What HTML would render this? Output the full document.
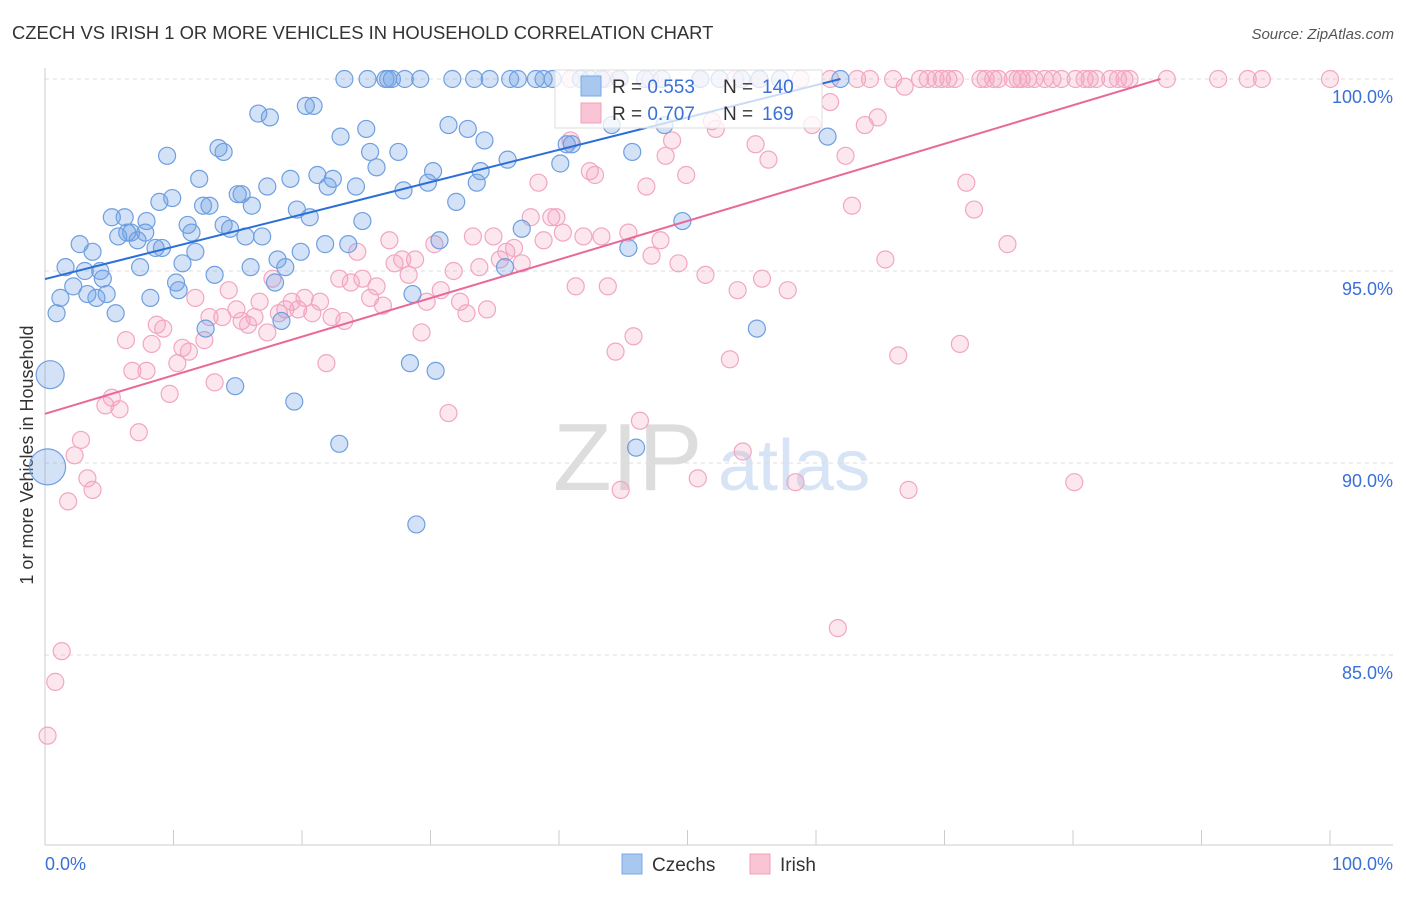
<!DOCTYPE html>
<html><head><meta charset="utf-8"><style>
body{margin:0;background:#fff;font-family:"Liberation Sans",sans-serif}
svg text{font-family:"Liberation Sans",sans-serif}
</style></head><body>
<svg id="c" width="1406" height="892" xmlns="http://www.w3.org/2000/svg">
<text x="12" y="39" font-size="18.4" fill="#333">CZECH VS IRISH 1 OR MORE VEHICLES IN HOUSEHOLD CORRELATION CHART</text>
<text x="1394" y="39" font-size="15" fill="#555" text-anchor="end" font-style="italic">Source: ZipAtlas.com</text>
<text transform="translate(33,455) rotate(-90)" font-size="18" fill="#333" text-anchor="middle">1 or more Vehicles in Household</text>
<g><text x="553" y="490" font-size="96" font-family="Liberation Serif" fill="#ddd">ZIP</text><text x="718" y="490" font-size="72" fill="#d6e4f5">atlas</text></g>
<g id="grid"></g><g id="pts"></g><g id="lines"></g>
<g>
<rect x="555" y="70" width="267" height="58" fill="#fff" fill-opacity="0.75" stroke="#ddd"/>
<rect x="581" y="76" width="20" height="20" fill="#a9c8f0" stroke="#7aa7e6"/>
<text x="612" y="93" font-size="19" fill="#333">R = <tspan fill="#3a6fd8">0.553</tspan></text>
<text x="723" y="93" font-size="19" fill="#333">N = <tspan fill="#3a6fd8" x="762">140</tspan></text>
<rect x="581" y="103" width="20" height="20" fill="#f9c4d4" stroke="#f0a0bb"/>
<text x="612" y="120" font-size="19" fill="#333">R = <tspan fill="#3a6fd8">0.707</tspan></text>
<text x="723" y="120" font-size="19" fill="#333">N = <tspan fill="#3a6fd8" x="762">169</tspan></text>
</g>
<g>
<rect x="622" y="854" width="20" height="20" fill="#a9c8f0" stroke="#7aa7e6"/><text x="652" y="871" font-size="19" fill="#333">Czechs</text>
<rect x="750" y="854" width="20" height="20" fill="#f9c4d4" stroke="#f0a0bb"/><text x="780" y="871" font-size="19" fill="#333">Irish</text>
</g>
</svg>
<script>
const yTicks=[100,95,90,85];
const yTickLabels=["100.0%","95.0%","90.0%","85.0%"];
const czechX=[0.4,0.2,0.9,1.2,1.6,2.2,2.7,3.1,3.3,3.7,4.0,4.3,4.5,4.8,5.2,5.5,5.7,6.2,6.4,6.7,7.2,7.8,7.4,7.9,8.2,8.6,9.1,8.9,9.5,9.9,10.2,10.4,10.7,11.1,11.4,11.7,12.0,12.3,12.5,12.8,13.2,13.5,13.9,13.9,14.4,14.8,15.0,15.3,15.6,16.0,16.1,16.6,16.9,17.3,17.5,17.9,18.1,18.4,18.7,19.1,19.4,19.6,19.9,20.3,20.6,20.9,21.2,21.8,22.0,22.4,22.9,23.0,23.3,23.6,24.2,24.7,25.0,25.1,25.3,25.8,26.5,26.7,27.0,27.5,27.9,28.0,28.4,28.6,28.9,29.2,29.8,30.2,30.4,30.7,31.4,31.7,32.0,32.9,33.4,33.6,33.9,34.2,34.6,36.0,36.2,35.8,36.8,37.1,38.2,38.8,39.5,40.1,40.6,41.0,41.7,42.4,43.3,44.1,44.7,45.7,45.4,46.0,46.7,48.0,48.2,49.6,55.4,60.9,61.9,51.0,52.5,54.2,55.6,57.2];
const czechY=[92.3,89.9,93.9,94.3,95.1,94.6,95.7,95.0,94.4,95.5,94.3,95.0,94.8,94.4,96.4,93.9,95.9,96.4,96.0,96.0,95.8,96.0,95.1,96.3,94.3,95.6,95.6,96.8,98.0,96.9,94.7,94.5,95.2,96.2,96.0,95.5,97.4,96.7,93.5,96.7,94.9,98.2,98.1,96.2,96.1,92.0,97.0,97.0,95.9,95.1,96.7,99.1,95.9,97.2,99.0,94.7,95.3,93.7,95.1,97.4,91.6,96.6,95.5,99.3,96.4,99.3,97.5,95.7,97.2,97.4,90.5,98.5,100,95.7,97.2,96.3,98.7,100,98.1,97.7,100,100,100,98.1,97.1,100,92.6,94.4,88.4,100,97.3,97.6,92.4,95.8,98.8,100,96.8,98.7,100,97.3,97.6,98.4,100,97.9,100,95.1,100,96.1,100,100,100,97.8,98.3,98.3,100,100,100,98.8,100,98.1,95.6,90.4,100,100,98.8,96.3,93.5,98.5,100,100,100,100,100,100];
const irishX=[0.2,0.8,1.3,1.8,2.3,2.8,3.3,3.7,4.7,5.2,5.8,6.3,6.8,7.3,7.9,8.3,8.7,9.2,9.7,10.3,10.7,11.2,11.7,12.4,12.8,13.2,13.8,14.3,14.9,15.3,15.8,16.3,16.7,17.3,17.7,18.2,18.7,19.2,19.7,20.2,20.8,21.4,21.9,22.3,22.9,23.3,23.8,24.3,24.7,25.3,25.8,26.3,26.8,27.2,27.8,28.3,28.8,29.3,29.7,30.3,30.8,31.4,31.8,32.3,32.8,33.3,33.8,34.4,34.9,35.4,35.9,36.5,37.1,37.8,38.4,38.8,39.4,39.8,40.3,40.9,41.3,41.9,42.4,42.8,43.3,43.8,44.4,44.8,45.4,45.8,46.3,46.8,47.2,47.9,48.3,48.8,49.3,49.9,50.8,51.4,51.9,52.2,53.3,53.9,54.3,55.3,55.8,56.3,57.8,58.4,59.7,61.1,61.7,62.3,62.8,63.8,64.8,65.4,66.4,66.9,67.2,71.2,71.7,72.3,74.9,80.1,
40.9,43.6,44.7,47.1,51.0,53.7,55.6,58.8,61.1,63.2,64.2,66.0,68.1,68.7,69.3,69.8,70.3,70.8,72.8,73.2,73.8,74.2,75.3,75.7,76.0,76.5,77.0,77.8,78.4,79.1,80.2,80.9,81.3,81.8,82.9,83.5,84.0,84.4,87.3,91.3,93.6,94.7,100];
const irishY=[82.9,84.3,85.1,89.0,90.2,90.6,89.6,89.3,91.5,91.7,91.4,93.2,92.4,90.8,92.4,93.1,93.6,93.5,91.8,92.6,93.0,92.9,94.3,93.2,93.8,92.1,93.8,94.5,94.0,93.7,93.6,93.8,94.2,93.4,94.8,93.9,94.0,94.2,94.0,94.3,93.9,94.2,92.6,93.8,94.8,93.7,94.7,95.5,94.8,94.3,94.6,94.1,95.8,95.2,95.3,94.9,95.3,93.4,94.2,95.7,94.5,91.3,95.0,94.2,93.9,95.9,95.1,94.0,95.9,95.3,95.5,95.6,95.2,96.4,97.3,95.8,96.4,96.4,96.0,98.4,94.6,95.9,97.6,97.5,95.9,94.6,92.9,89.3,96.0,93.3,91.1,97.2,95.4,95.8,98.0,98.4,95.2,97.5,89.6,94.9,98.9,98.7,92.7,94.5,90.3,98.3,94.8,97.9,94.5,89.5,98.8,99.4,85.7,98.0,96.7,98.8,99.0,95.3,92.8,99.8,89.3,93.1,97.3,96.6,95.7,89.5,
100,100,100,100,100,100,100,100,100,100,100,100,100,100,100,100,100,100,100,100,100,100,100,100,100,100,100,100,100,100,100,100,100,100,100,100,100,100,100,100,100,100,100];
const czechTrend=[[0,94.79],[61.9,100]];
const irishTrend=[[0,91.28],[86.8,100]];
const NS="http://www.w3.org/2000/svg";
const X=v=>45+v*12.85, Y=v=>79+(100-v)*38.4;
function mk(t,a,p){const e=document.createElementNS(NS,t);for(const k in a)e.setAttribute(k,a[k]);p.appendChild(e);return e;}
const grid=document.getElementById('grid');
yTicks.forEach((t,i)=>{
 const l=mk('line',{x1:45,x2:1393,y1:Y(t),y2:Y(t),stroke:'#ddd','stroke-dasharray':'4 4'},grid);
 
 
 const tx=mk('text',{x:1393,y:Y(t)+24,'font-size':18,fill:'#3a6fd8','text-anchor':'end'},grid);
 tx.textContent=yTickLabels[i];
 
 
});
const ax=mk('line',{x1:45,x2:1393,y1:845,y2:845,stroke:'#ccc'},grid);


const ay=mk('line',{x1:45,x2:45,y1:68,y2:845,stroke:'#ccc'},grid);


for(let i=0;i<=10;i++){const t=mk('line',{x1:X(i*10),x2:X(i*10),y1:830,y2:845,stroke:'#ccc'},grid);
 
 }
[["0.0%",45,'start'],["100.0%",1393,'end']].forEach(([s,x,a])=>{const t=mk('text',{x:x,y:870,'font-size':18,fill:'#3a6fd8','text-anchor':a},grid);t.textContent=s;
 
 });
const pts=document.getElementById('pts');
irishX.forEach((x,i)=>{const c=mk('circle',{cx:X(x),cy:Y(irishY[i]),r:8.5,fill:'rgba(244,160,190,0.25)',stroke:'#f2a6c0','stroke-width':1.2},pts);
 
 });
czechX.forEach((x,i)=>{const r=i==0?14:(i==1?18:8.5);const c=mk('circle',{cx:X(x),cy:Y(czechY[i]),r:r,fill:'rgba(110,160,230,0.3)',stroke:'#6f9fe0','stroke-width':1.2},pts);
 
 });
const lines=document.getElementById('lines');
const l1=mk('line',{x1:X(czechTrend[0][0]),y1:Y(czechTrend[0][1]),x2:X(czechTrend[1][0]),y2:Y(czechTrend[1][1]),stroke:'#2a6fd8','stroke-width':2},lines);


const l2=mk('line',{x1:X(irishTrend[0][0]),y1:Y(irishTrend[0][1]),x2:X(irishTrend[1][0]),y2:Y(irishTrend[1][1]),stroke:'#e8699a','stroke-width':2},lines);


</script>
</body></html>
